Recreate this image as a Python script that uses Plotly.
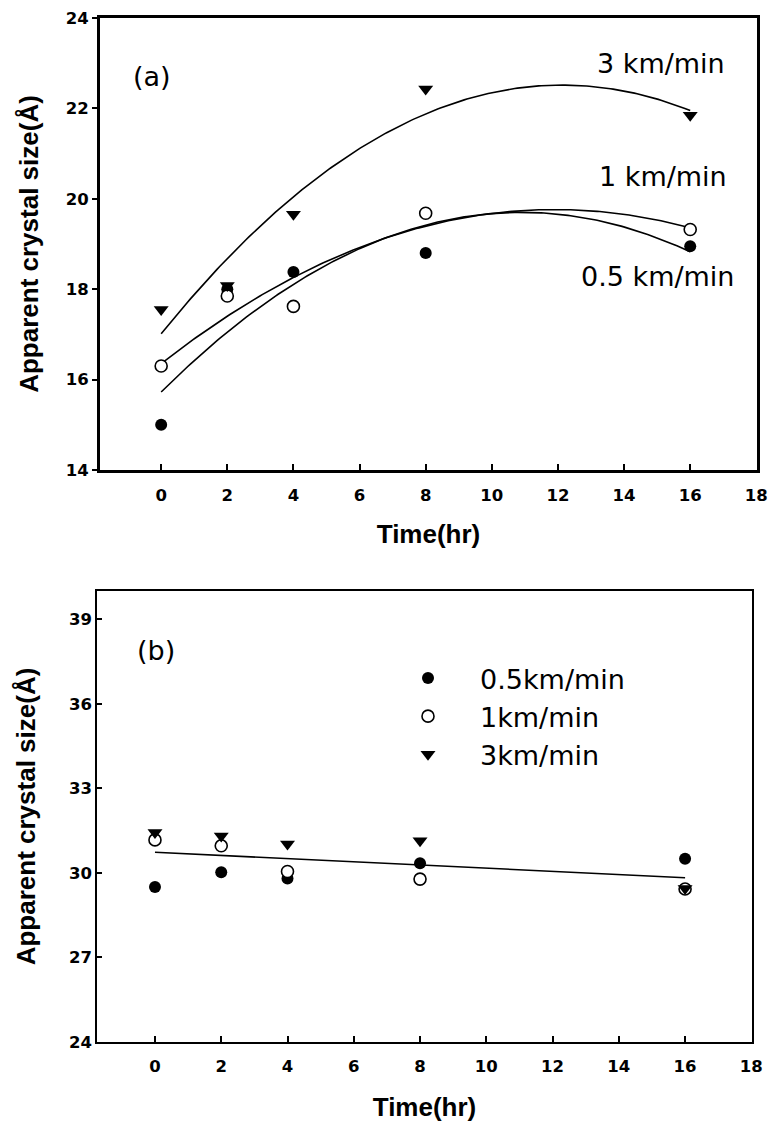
import numpy as np
import plotly.graph_objects as go

# Sampling times (hr)
time_hr = [0, 2, 4, 8, 16]

# (a) apparent crystal size (Å) per winding speed
a_05 = [15.0, 18.0, 18.38, 18.8, 18.95]
a_1 = [16.3, 17.85, 17.62, 19.68, 19.32]
a_3 = [17.55, 18.08, 19.66, 22.43, 21.85]

# (b) apparent crystal size (Å) per winding speed
b_05 = [29.5, 30.02, 29.8, 30.34, 30.5]
b_1 = [31.17, 30.96, 30.05, 29.78, 29.43]
b_3 = [31.43, 31.31, 31.02, 31.14, 29.45]

speed_names = ["0.5km/min", "1km/min", "3km/min"]
curve_labels = ["0.5 km/min", "1 km/min", "3 km/min"]
x_ticks = [0, 2, 4, 6, 8, 10, 12, 14, 16, 18]

W, H = 768, 1122
BLACK = "#000000"
TICK_FONT = dict(family="DejaVu Sans", size=16.5, color=BLACK, weight="bold")
TITLE_FONT = dict(family="Liberation Sans", size=26, color=BLACK, weight="bold")
TEXT_FONT = dict(family="DejaVu Sans", size=27, color=BLACK)

marker_styles = [
    dict(symbol="circle", size=12, color=BLACK, line=dict(width=0)),
    dict(symbol="circle", size=12, color="white", line=dict(width=1.6, color=BLACK)),
    dict(symbol="triangle-down", size=13, color=BLACK, line=dict(width=0)),
]

fig = go.Figure()

# Panel (a): points with quadratic regression curves
xs = np.array(time_hr, dtype=float)
xfit = np.linspace(0, 16, 200)
for ys in (a_05, a_1, a_3):
    coef = np.polyfit(xs, np.array(ys), 2)
    fig.add_trace(go.Scatter(x=xfit, y=np.polyval(coef, xfit), mode="lines",
                             line=dict(color=BLACK, width=1.6),
                             showlegend=False, hoverinfo="skip",
                             xaxis="x", yaxis="y"))
for ys, st in zip((a_05, a_1, a_3), marker_styles):
    fig.add_trace(go.Scatter(x=time_hr, y=ys, mode="markers", marker=st,
                             showlegend=False, xaxis="x", yaxis="y"))

# Panel (b): points with a single linear regression over all speeds
all_x = np.concatenate([xs, xs, xs])
all_y = np.concatenate([b_05, b_1, b_3])
lin = np.polyfit(all_x, all_y, 1)
xl = np.array([0.0, 16.0])
fig.add_trace(go.Scatter(x=xl, y=np.polyval(lin, xl), mode="lines",
                         line=dict(color=BLACK, width=1.6),
                         showlegend=False, hoverinfo="skip",
                         xaxis="x2", yaxis="y2"))
for ys, st, nm in zip((b_05, b_1, b_3), marker_styles, speed_names):
    fig.add_trace(go.Scatter(x=time_hr, y=ys, mode="markers", marker=st,
                             name=nm, showlegend=True, xaxis="x2", yaxis="y2"))


def dom_x(left, right):
    return [left / W, right / W]


def dom_y(top, bottom):
    return [1 - bottom / H, 1 - top / H]


def x_axis(domain, rng, anchor, lw, standoff):
    return dict(domain=domain, range=rng, anchor=anchor, automargin=False,
                tickmode="array", tickvals=x_ticks,
                ticks="inside", ticklen=6, tickwidth=1.5, tickcolor=BLACK,
                ticklabelstandoff=8,
                showline=True, linewidth=lw, linecolor=BLACK, mirror=True,
                showgrid=False, zeroline=False, tickfont=TICK_FONT,
                title=dict(text="Time(hr)", font=TITLE_FONT, standoff=standoff))


def y_axis(domain, rng, anchor, lw, tickvals, ticks, standoff):
    return dict(domain=domain, range=rng, anchor=anchor, automargin=False,
                tickmode="array", tickvals=tickvals,
                ticks=ticks, ticklen=5, tickwidth=1.5, tickcolor=BLACK,
                showline=True, linewidth=lw, linecolor=BLACK, mirror=True,
                showgrid=False, zeroline=False, tickfont=TICK_FONT,
                title=dict(text="Apparent crystal size(Å)", font=TITLE_FONT,
                           standoff=standoff))


def label(txt, cx, cy):
    return dict(text=txt, x=cx / W, y=1 - cy / H, xref="paper", yref="paper",
                xanchor="center", yanchor="middle", showarrow=False,
                font=TEXT_FONT)


annotations = [label("(a)", 152, 77), label("(b)", 156, 650)]
label_pos = [(657, 277), (663, 177), (661, 63)]
for txt, (cx, cy) in zip(curve_labels, label_pos):
    annotations.append(label(txt, cx, cy))

fig.update_layout(
    width=W, height=H,
    margin=dict(l=0, r=0, t=0, b=0),
    paper_bgcolor="white", plot_bgcolor="white",
    xaxis=x_axis(dom_x(100, 757), [-1.85, 18.02], "y", 3, 22),
    yaxis=y_axis(dom_y(18, 470), [14, 24], "x", 3, [14, 16, 18, 20, 22, 24],
                 "outside", 20),
    xaxis2=x_axis(dom_x(97, 752), [-1.75, 18.02], "y2", 1.5, 24),
    yaxis2=y_axis(dom_y(591, 1042), [24, 40], "x2", 1.5,
                  [24, 27, 30, 33, 36, 39], "inside", 26),
    legend=dict(x=376 / W, y=1 - 654 / H, xanchor="left", yanchor="top",
                font=TEXT_FONT, itemwidth=94, bgcolor="rgba(0,0,0,0)",
                borderwidth=0, tracegroupgap=0),
    annotations=annotations,
    showlegend=True,
)

fig.write_html("out.html")
